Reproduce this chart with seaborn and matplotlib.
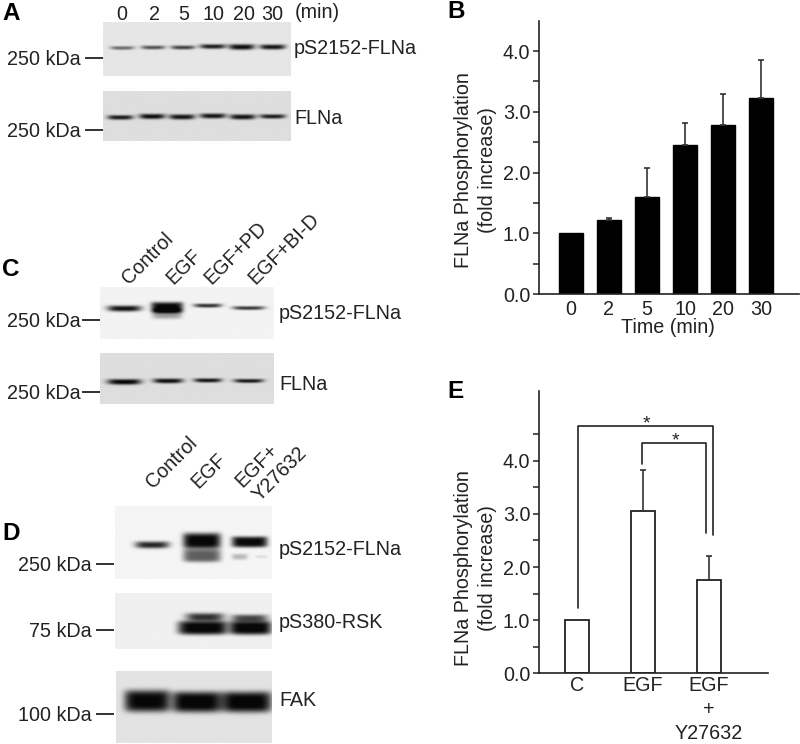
import numpy as np
import pandas as pd
import matplotlib
matplotlib.use("Agg")
import matplotlib.pyplot as plt
import seaborn as sns

sns.set_theme(style="ticks")
plt.rcParams['font.family'] = ['Liberation Sans', 'DejaVu Sans']
INK = "#222222"
FS = 14.2

# ---- data ----
time_labels = ["0", "2", "5", "10", "20", "30"]
time_values = [1.0, 1.22, 1.6, 2.45, 2.78, 3.22]
time_err_top = [1.0, 1.25, 2.08, 2.82, 3.3, 3.86]
treat_labels = ["C", "EGF", "EGF\n+\nY27632"]
treat_values = [1.0, 3.05, 1.75]
treat_err_top = [1.0, 3.82, 2.2]
# brackets: (x-left, y-left-start, y-top, x-right, y-right-end)
bracket_outer = (0.015, 1.235, 4.66, 2.065, 2.6)
bracket_inner = (0.985, 3.94, 4.34, 1.95, 2.64)

W, H = 800, 744
fig = plt.figure(figsize=(W / 100, H / 100), dpi=100, facecolor="white")


def px_axes(x0, y0, x1, y1, **kw):
    return fig.add_axes([x0 / W, 1 - y1 / H, (x1 - x0) / W, (y1 - y0) / H], **kw)


# ---- overlay for blots and text, in pixels ----
bg = px_axes(0, 0, W, H)
bg.set_xlim(0, W)
bg.set_ylim(H, 0)
bg.axis("off")

# each band: lane centre x, centre y, half width, half thickness, darkness
blots = [
    ((103, 291, 22, 76), 0.90, [
        (122, 48, 12, 1.8, 0.55), (153, 47.5, 12, 1.9, 0.65), (183, 47.5, 12, 2.0, 0.72),
        (213, 46.5, 13, 2.3, 0.88), (242, 47, 13, 2.8, 0.95), (273, 47, 13, 2.5, 0.92)]),
    ((103, 291, 91, 141), 0.87, [
        (120, 117.5, 13, 2.3, 0.9), (152, 116.5, 13, 2.6, 0.95), (182, 117, 13, 2.6, 0.92),
        (213, 116, 13, 2.5, 0.92), (243, 117, 13, 2.6, 0.93), (273, 116.5, 13, 2.2, 0.88)]),
    ((100, 274, 287, 339), 0.95, [
        (124, 308.5, 17, 3.0, 0.93), (167, 307.5, 16, 5.5, 1.0), (167, 314, 15, 5.0, 0.35),
        (208, 305.5, 14, 2.0, 0.8), (249, 308, 16, 1.9, 0.78)]),
    ((100, 274, 353, 404), 0.87, [
        (124, 382, 17, 2.8, 1.0), (168, 381, 15, 2.4, 0.95),
        (208, 380.5, 14, 2.1, 0.92), (249, 381, 15, 2.0, 0.9)]),
    ((115, 272, 506, 579), 0.96, [
        (152, 545, 17, 3.5, 0.85), (202, 541, 19, 8.0, 1.0), (202, 556, 19, 6.5, 0.62),
        (250, 542, 18, 5.5, 0.98), (240, 557, 8, 3.0, 0.25), (262, 557, 6, 1.5, 0.1)]),
    ((115, 272, 593, 649), 0.94, [
        (203, 628, 25, 7.0, 1.0), (205, 617, 19, 4.0, 0.8),
        (251, 628, 21, 7.0, 1.0), (250, 618, 18, 3.5, 0.7)]),
    ((116, 272, 671, 743), 0.89, [
        (147, 701, 23, 11.0, 0.98), (197, 702, 25, 10.5, 1.0), (247, 702, 25, 10.5, 1.0)]),
]


def render(extent, base, bands):
    x0, x1, y0, y1 = extent
    xx, yy = np.meshgrid(np.arange(x0, x1 + 1.0), np.arange(y0, y1 + 1.0))
    ink = np.zeros_like(xx, dtype=float)
    for cx, cy, hw, th, dark in bands:
        u = (xx - cx) / hw
        v = (yy - cy + 0.3 * u ** 2) / th
        pv = 4.0 if th >= 5 else 2.6
        pu = 6.0 if th >= 5 else 4.0
        ink += dark * np.exp(-np.abs(u) ** pu) * np.exp(-np.abs(v) ** pv)
    return base * (1 - np.clip(ink, 0, 0.97))


for ext, base, bands in blots:
    bg.imshow(render(ext, base, bands), extent=(ext[0], ext[1], ext[3], ext[2]),
              cmap="gray", vmin=0, vmax=1, interpolation="bilinear", aspect="auto")
bg.set_xlim(0, W)
bg.set_ylim(H, 0)

# text labels
for s, x, y in [("pS2152-FLNa", 294, 49), ("FLNa", 294, 119), ("pS2152-FLNa", 279, 313.5),
                ("FLNa", 279, 384), ("pS2152-FLNa", 279, 549.5), ("pS380-RSK", 279, 623),
                ("FAK", 279, 701)]:
    bg.text(x, y, s, fontsize=FS, color=INK, ha="left", va="center")

for s, y, tx, ty in [("250 kDa", 58, 81, 58), ("250 kDa", 130, 81, 130), ("250 kDa", 320, 81, 320),
                     ("250 kDa", 392, 81, 392), ("250 kDa", 564, 92, 564), ("75 kDa", 630, 92, 630),
                     ("100 kDa", 714, 92, 714)]:
    bg.text(tx, ty + 1.2, s, fontsize=FS, color=INK, ha="right", va="center")
    right = 103 if ty < 200 else (100 if ty < 450 else 114)
    bg.plot([right - 18, right], [y, y], color=INK, lw=1.3, solid_capstyle="butt")

for s, x in zip(time_labels, [122, 154, 184, 214, 244, 272]):
    bg.text(x, 15, s, fontsize=FS, color=INK, ha="center", va="center")
bg.text(295, 13, "(min)", fontsize=FS, color=INK, ha="left", va="center")

for s, x, y in [("Control", 125, 281), ("EGF", 169, 281), ("EGF+PD", 207, 281), ("EGF+BI-D", 251, 281),
                ("Control", 149, 485), ("EGF", 194, 485), ("EGF+", 238, 484), ("Y27632", 256, 498)]:
    bg.text(x, y, s, fontsize=FS, color=INK, rotation=45, rotation_mode="anchor", ha="left", va="center")

for s, x, y in [("A", 2, 13), ("B", 447, 12), ("C", 2, 269), ("D", 2, 534), ("E", 447, 392)]:
    bg.text(x, y, s, fontsize=17.5, fontweight="bold", color="black", ha="left", va="center")


# ---- bar panels ----
def style(ax, top, ticks_major, xpad):
    sns.despine(ax=ax)
    for sp in ("left", "bottom"):
        ax.spines[sp].set_linewidth(1.2)
        ax.spines[sp].set_color(INK)
    ax.patch.set_alpha(0)
    ax.set_ylim(0, top)
    ax.set_yticks(ticks_major)
    ax.set_yticklabels([f"{t:.1f}" for t in ticks_major], fontsize=FS, color=INK)
    ax.set_yticks(np.arange(0.5, top, 1.0), minor=True)
    ax.tick_params(axis="y", which="both", length=4, width=1.1, color=INK, pad=2)
    ax.tick_params(axis="x", length=0, pad=xpad, labelsize=FS, labelcolor=INK)
    ax.set_xlabel("")
    ax.set_ylabel("FLNa Phosphorylation\n(fold increase)", fontsize=FS, color=INK,
                  linespacing=1.33)


def upper_errors(ax, values, tops):
    vals = np.array(values, dtype=float)
    ups = np.array(tops, dtype=float) - vals
    keep = ups > 0
    ax.errorbar(np.arange(len(vals))[keep], vals[keep], yerr=[np.zeros(keep.sum()), ups[keep]],
                fmt="none", ecolor="#333333", elinewidth=1.2, capsize=2.5, capthick=1.2)


# panel B
axb = px_axes(538.7, 20.7, 799, 294)
dfb = pd.DataFrame({"t": time_labels, "v": time_values})
sns.barplot(data=dfb, x="t", y="v", color="black", saturation=1, width=0.63,
            edgecolor="black", ax=axb, errorbar=None)
upper_errors(axb, time_values, time_err_top)
style(axb, 4.5, [0.0, 1.0, 2.0, 3.0, 4.0], 4.5)
axb.set_xlim(-0.85, 6.0)
axb.yaxis.set_label_coords((497 - 538.7) / 260.3, 0.5)
axb.yaxis.label.set_y((294 - 170) / 273.3)
axb.set_xlabel("Time (min)", fontsize=FS, color=INK)
axb.xaxis.set_label_coords((668 - 538.7) / 260.3, -(326 - 294 - 8) / 273.3)

# panel E
axe = px_axes(538.7, 390.7, 767.7, 673.3)
dfe = pd.DataFrame({"t": treat_labels, "v": treat_values})
sns.barplot(data=dfe, x="t", y="v", color="white", saturation=1, width=0.35,
            edgecolor=INK, linewidth=1.3, ax=axe, errorbar=None)
upper_errors(axe, treat_values, treat_err_top)
style(axe, 5.32, [0.0, 1.0, 2.0, 3.0, 4.0], 2.0)
axe.set_xlim(-0.58, 2.89)
axe.yaxis.set_label_coords((497 - 538.7) / 229, 0.5)
axe.yaxis.label.set_y((673.3 - 568) / 282.6)
for lab in axe.get_xticklabels():
    lab.set_linespacing(1.33)

for xl, yl, yt, xr, yr in (bracket_outer, bracket_inner):
    axe.plot([xl, xl, xr, xr], [yl, yt, yt, yr], color=INK, lw=1.2, clip_on=False)
    axe.text((xl + xr) / 2 + 0.02, yt - 0.13, "*", fontsize=14, color=INK, ha="center", va="bottom")

fig.savefig("out.png", dpi=100, facecolor="white")
